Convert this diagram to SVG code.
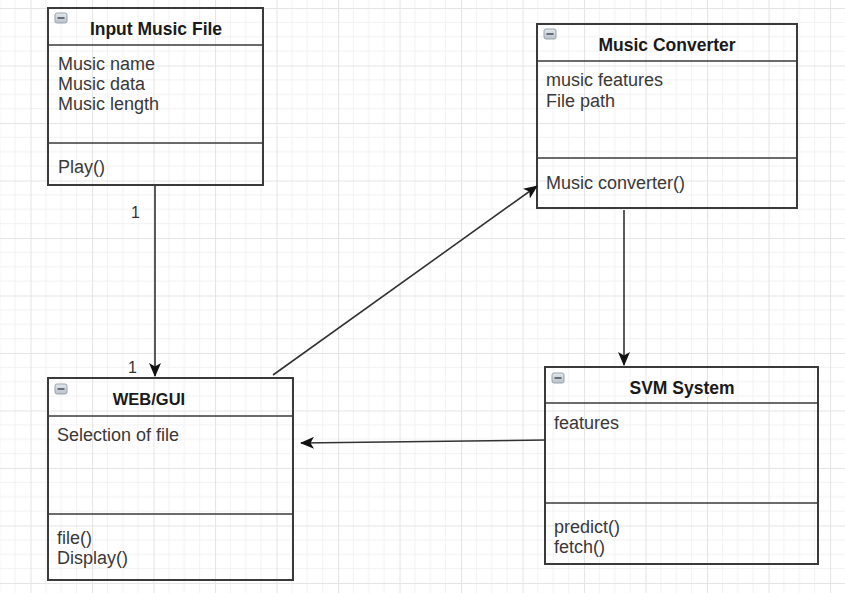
<svg xmlns="http://www.w3.org/2000/svg" width="845" height="593" viewBox="0 0 845 593">
<defs>
<pattern id="grid" patternUnits="userSpaceOnUse" x="30.5" y="8" width="61.5" height="57.5">
<path d="M15.375 0V57.5M30.75 0V57.5M46.125 0V57.5M0 14.375H61.5M0 28.75H61.5M0 43.125H61.5" stroke="#f2f2f2" stroke-width="1" fill="none"/>
<path d="M0.5 0V57.5M0 0.5H61.5" stroke="#e5e5e5" stroke-width="1.2" fill="none"/>
</pattern>
<marker id="arr" viewBox="0 0 14 12" refX="13" refY="6" markerWidth="14" markerHeight="12" markerUnits="userSpaceOnUse" orient="auto">
<path d="M0,0 L14,6 L0,12 L3.5,6 Z" fill="#111"/>
</marker>
<linearGradient id="ig" x1="0" y1="0" x2="0" y2="1">
<stop offset="0" stop-color="#e4e8ec"/>
<stop offset="1" stop-color="#b9c0c8"/>
</linearGradient>
</defs>
<style>
.box{fill:none;stroke:#3a3a3a;stroke-width:2}
.sep{stroke:#3a3a3a;stroke-width:1.6}
.title{font-family:"Liberation Sans",Arial,sans-serif;font-weight:bold;font-size:17.5px;fill:#1a1a1a;text-anchor:middle}
.attr{font-family:"Liberation Sans",Arial,sans-serif;font-size:18px;fill:#3a3838}
.lbl{font-family:"Liberation Sans",Arial,sans-serif;font-size:16px;fill:#333}
.icon{fill:url(#ig);stroke:#9aa3ad;stroke-width:1}
.minus{stroke:#5a6370;stroke-width:1.8}
.edge{stroke:#333;stroke-width:1.6;fill:none;marker-end:url(#arr)}
</style>
<rect width="845" height="593" fill="#fff"/>
<rect width="845" height="593" fill="url(#grid)"/>

<g id="input-music-file">
<rect class="box" x="48" y="8" width="215" height="177"/>
<line class="sep" x1="48" y1="45" x2="263" y2="45"/>
<line class="sep" x1="48" y1="143" x2="263" y2="143"/>
<rect class="icon" x="55" y="13" width="12" height="10" rx="2"/>
<line class="minus" x1="57.5" y1="18" x2="64.5" y2="18"/>
<text class="title" x="156" y="35">Input Music File</text>
<text class="attr" x="58" y="70">Music name</text>
<text class="attr" x="58" y="90">Music data</text>
<text class="attr" x="58" y="110">Music length</text>
<text class="attr" x="58" y="173">Play()</text>
</g>

<g id="music-converter">
<rect class="box" x="537" y="24" width="260" height="184"/>
<line class="sep" x1="537" y1="61" x2="797" y2="61"/>
<line class="sep" x1="537" y1="158" x2="797" y2="158"/>
<rect class="icon" x="544" y="29" width="12" height="10" rx="2"/>
<line class="minus" x1="546.5" y1="34" x2="553.5" y2="34"/>
<text class="title" x="667" y="51">Music Converter</text>
<text class="attr" x="546" y="86">music features</text>
<text class="attr" x="546" y="107">File path</text>
<text class="attr" x="546" y="189">Music converter()</text>
</g>

<g id="web-gui">
<rect class="box" x="48" y="378" width="245" height="202"/>
<line class="sep" x1="48" y1="416" x2="293" y2="416"/>
<line class="sep" x1="48" y1="514" x2="293" y2="514"/>
<rect class="icon" x="55" y="384" width="12" height="10" rx="2"/>
<line class="minus" x1="57.5" y1="389" x2="64.5" y2="389"/>
<text class="title" x="149" y="405" style="font-size:16.5px">WEB/GUI</text>
<text class="attr" x="57" y="441">Selection of file</text>
<text class="attr" x="57" y="544">file()</text>
<text class="attr" x="57" y="564">Display()</text>
</g>

<g id="svm-system">
<rect class="box" x="545" y="367" width="273" height="197"/>
<line class="sep" x1="545" y1="403" x2="818" y2="403"/>
<line class="sep" x1="545" y1="503" x2="818" y2="503"/>
<rect class="icon" x="552" y="373" width="12" height="10" rx="2"/>
<line class="minus" x1="554.5" y1="378" x2="561.5" y2="378"/>
<text class="title" x="682" y="394">SVM System</text>
<text class="attr" x="554" y="429">features</text>
<text class="attr" x="554" y="533">predict()</text>
<text class="attr" x="554" y="553">fetch()</text>
</g>

<g id="connectors">
<line class="edge" x1="155" y1="186" x2="155" y2="376"/>
<text class="lbl" x="131" y="218">1</text>
<text class="lbl" x="128" y="373">1</text>
<line class="edge" x1="273" y1="375" x2="537" y2="186"/>
<line class="edge" x1="624" y1="210" x2="624" y2="365"/>
<line class="edge" x1="546" y1="440" x2="301" y2="443"/>
</g>
</svg>
